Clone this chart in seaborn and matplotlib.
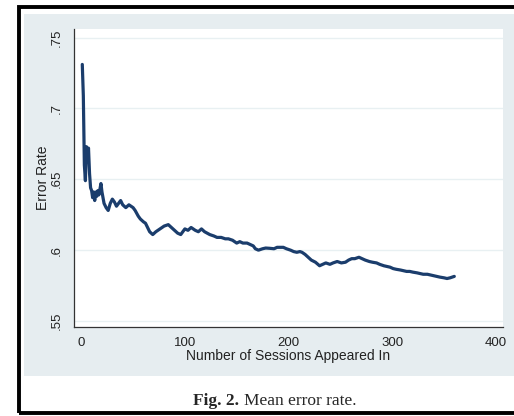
import numpy as np
import pandas as pd
import matplotlib
matplotlib.use("Agg")
import matplotlib.pyplot as plt
from matplotlib.patches import Rectangle
import seaborn as sns

# Valeurs
sessions = [1, 2, 3, 4, 5, 6, 7, 8, 9, 10, 11, 12, 13, 14, 15, 16, 17, 18, 19, 20,
            21, 22, 24, 26, 28, 30, 32, 34, 36, 38, 40, 43, 46, 48, 50, 52, 55, 57,
            60, 62, 64, 66, 69, 72, 76, 80, 84, 87, 90, 93, 96, 100, 103, 106, 110,
            113, 116, 119, 124, 128, 131, 135, 139, 142, 146, 150, 153, 156, 160,
            163, 166, 168, 171, 175, 178, 182, 186, 189, 192, 195, 198, 202, 205,
            208, 211, 213, 216, 219, 222, 226, 230, 233, 236, 240, 243, 247, 251,
            255, 258, 261, 264, 268, 271, 274, 278, 281, 285, 288, 292, 295, 298,
            301, 304, 308, 311, 314, 317, 320, 324, 327, 330, 334, 337, 340, 343,
            346, 350, 353, 356, 358, 360]
error_rate = [0.731, 0.709, 0.660, 0.649, 0.673, 0.668, 0.672, 0.654, 0.644, 0.642,
              0.637, 0.641, 0.635, 0.641, 0.638, 0.642, 0.639, 0.643, 0.647, 0.641,
              0.637, 0.633, 0.630, 0.628, 0.633, 0.636, 0.634, 0.631, 0.633, 0.635,
              0.632, 0.630, 0.632, 0.631, 0.630, 0.628, 0.624, 0.622, 0.620, 0.619,
              0.616, 0.613, 0.611, 0.613, 0.615, 0.617, 0.618, 0.616, 0.614, 0.612,
              0.611, 0.615, 0.614, 0.616, 0.614, 0.613, 0.615, 0.613, 0.611, 0.610,
              0.609, 0.609, 0.608, 0.608, 0.607, 0.605, 0.606, 0.605, 0.605, 0.604,
              0.603, 0.601, 0.600, 0.601, 0.6015, 0.6013, 0.601, 0.602, 0.602, 0.602,
              0.601, 0.600, 0.599, 0.5985, 0.599, 0.5985, 0.597, 0.595, 0.593, 0.5915,
              0.589, 0.590, 0.591, 0.590, 0.591, 0.592, 0.591, 0.5915, 0.593, 0.594,
              0.594, 0.595, 0.594, 0.593, 0.592, 0.5915, 0.591, 0.590, 0.589, 0.5885,
              0.588, 0.587, 0.5865, 0.586, 0.5855, 0.585, 0.585, 0.5845, 0.584, 0.5835,
              0.583, 0.583, 0.5825, 0.582, 0.5815, 0.581, 0.5805, 0.580, 0.5805, 0.581,
              0.5815]

yticks = [0.55, 0.6, 0.65, 0.7, 0.75]
ytick_labels = [".55", ".6", ".65", ".7", ".75"]
xticks = [0, 100, 200, 300, 400]

df = pd.DataFrame({"sessions": sessions, "error_rate": error_rate})

sns.set_style("white")
plt.rcParams["font.family"] = ["Liberation Sans", "DejaVu Sans"]

W, H = 514, 416
fig = plt.figure(figsize=(W / 100, H / 100), dpi=100)

# fond gris (style Stata) et cadre noir
fig.patches.append(Rectangle((24 / W, 1 - 376 / H), 1.0, (376 - 14) / H,
                             transform=fig.transFigure, facecolor="#e6edf0",
                             edgecolor="none", zorder=-2))
fig.patches.append(Rectangle((18.5 / W, 1 - 413 / H), 1.2, (413 - 6.5) / H,
                             transform=fig.transFigure, facecolor="none",
                             edgecolor="black", lw=2.8, zorder=-1))

ax = fig.add_axes([74 / W, 1 - 327 / H, (503 - 74) / W, (327 - 29) / H])
ax.set_zorder(2)
ax.set_facecolor("white")

sns.lineplot(data=df, x="sessions", y="error_rate", ax=ax, color="#1b3d6c",
             linewidth=2.3, zorder=3)

ax.set_xlim(-7, 407)
ax.set_ylim(0.5458, 0.756)
ax.set_xticks(xticks)
ax.set_yticks(yticks)
ax.set_yticklabels(ytick_labels, rotation=90, va="center")
ax.tick_params(axis="both", direction="out", length=5, width=0.8, color="#333333",
               labelsize=9.5, labelcolor="#222222", pad=3)
ax.tick_params(axis="x", pad=2)

ax.grid(axis="y", color="#e8f0f2", lw=1.0)
ax.grid(axis="x", visible=False)
ax.set_axisbelow(True)

for s in ["top", "right"]:
    ax.spines[s].set_visible(False)
for s in ["left", "bottom"]:
    ax.spines[s].set_color("#333333")
    ax.spines[s].set_linewidth(0.9)

ax.set_xlabel("Number of Sessions Appeared In", fontsize=10, color="#222222", labelpad=0.5)
ax.set_ylabel("Error Rate", fontsize=10, color="#222222", labelpad=0.5)

# légende de la figure
fig.text(239 / W, 1 - 401 / H, "Fig. 2.", ha="right", va="center",
         fontfamily="Liberation Serif", fontweight="bold", fontsize=12.5)
fig.text(244 / W, 1 - 401 / H, "Mean error rate.", ha="left", va="center",
         fontfamily="Liberation Serif", fontsize=12.5)

fig.savefig("out.png", dpi=100)
